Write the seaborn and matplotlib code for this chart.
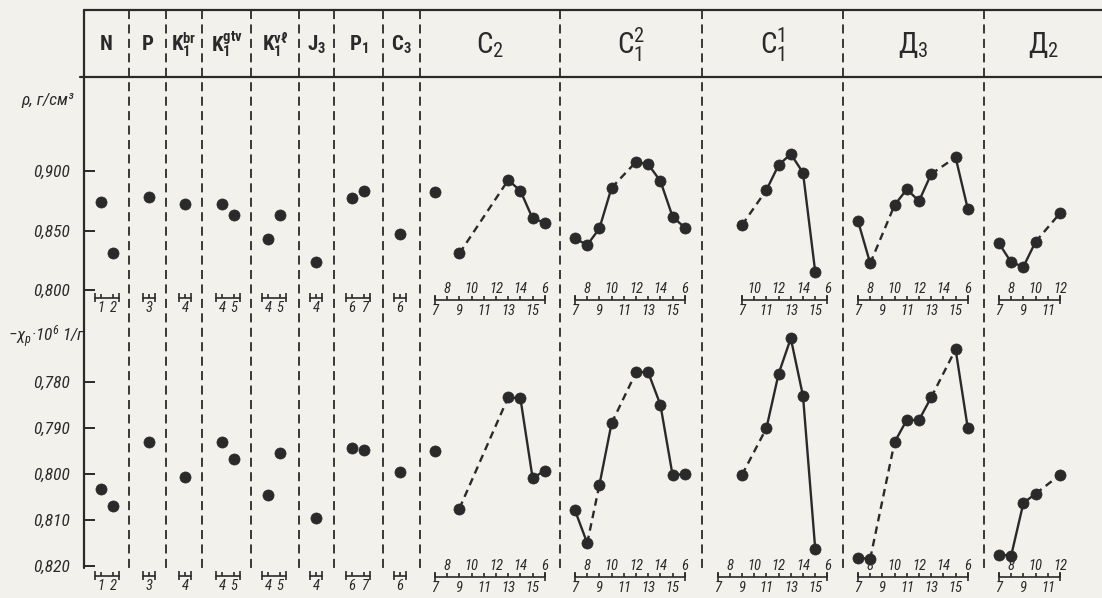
"""
Density and diamagnetic susceptibility of oils by stratigraphic unit
(scanned table-chart redrawn with seaborn)
"""
import pandas as pd
import matplotlib
matplotlib.use("Agg")
import matplotlib.pyplot as plt
from matplotlib import font_manager
from matplotlib.lines import Line2D
import seaborn as sns

# ---------------- data ----------------
units = ["N", "P", r"K$_1^{br}$", r"K$_1^{gtv}$", r"K$_1^{v\ell}$", "J$_3$", "P$_1$", "C$_3$",
         "C$_2$", "C$_1^2$", "C$_1^1$", "Д$_3$", "Д$_2$"]

samples = [[1, 2], [3], [4], [4, 5], [4, 5], [4], [6, 7], [6],
           [7, 9, 13, 14, 15, 16],
           [7, 8, 9, 10, 12, 13, 14, 15, 16],
           [9, 11, 12, 13, 14, 15],
           [7, 8, 10, 11, 12, 13, 15, 16],
           [7, 8, 9, 10, 12]]

density = [[0.874, 0.831], [0.878], [0.872], [0.8725, 0.863], [0.843, 0.863], [0.8235],
           [0.877, 0.883], [0.847],
           [0.8826, 0.8308, 0.8924, 0.8834, 0.8602, 0.8566],
           [0.8434, 0.8378, 0.8518, 0.8860, 0.9076, 0.9056, 0.8916, 0.8616, 0.8524],
           [0.8546, 0.884, 0.905, 0.9143, 0.8986, 0.8154],
           [0.858, 0.8224, 0.8714, 0.8846, 0.8748, 0.8975, 0.9115, 0.8681],
           [0.8392, 0.8233, 0.8196, 0.8406, 0.8645]]

susc = [[0.8032, 0.8070], [0.7931], [0.8007], [0.7931, 0.7967], [0.8045, 0.7955], [0.8096],
        [0.7943, 0.7948], [0.7996],
        [0.7951, 0.8075, 0.7834, 0.7836, 0.8009, 0.7993],
        [0.8079, 0.8150, 0.8024, 0.7890, 0.7780, 0.7780, 0.7850, 0.8003, 0.8000],
        [0.8002, 0.7901, 0.7783, 0.7706, 0.7831, 0.8162],
        [0.8182, 0.8184, 0.7931, 0.7883, 0.7883, 0.7834, 0.7730, 0.7901],
        [0.8175, 0.8177, 0.8063, 0.8043, 0.8002]]

# link between neighbouring points: s = solid, d = dashed, n = none
density_links = ["n", "", "", "n", "n", "", "n", "", "ndsss", "sssdssss", "dssss", "sdsssds", "sssd"]
susc_links = ["n", "", "", "n", "n", "", "n", "", "ndsss", "sdsdssss", "dssss", "sdsssds", "sssd"]

density_ticks = [0.800, 0.850, 0.900]
density_ticklabels = ["0,800", "0,850", "0,900"]
susc_ticks = [0.780, 0.790, 0.800, 0.810, 0.820]
susc_ticklabels = ["0,780", "0,790", "0,800", "0,810", "0,820"]

# long sample scales under the big columns (first, last sample number)
scale_top = [None] * 8 + [(7, 16), (7, 16), (9, 16), (7, 16), (7, 12)]
scale_bottom = [None] * 8 + [(7, 16), (7, 16), (7, 16), (7, 16), (7, 12)]
scale_top_first_label = {10: "7"}   # the C1^1 scale starts with "7" in print
printed = {16: "6"}                 # 16 is printed as "6"

# ---------------- layout ----------------
W, H = 1102, 598
dividers = [84, 129, 166, 202, 251, 299, 334, 383, 420, 560, 702, 843, 984, 1102]
anchor_px = [101, 149, 185, 222, 268, 316, 352, 400, 435, 575, 742, 858, 999]
PX = 12.2  # pixels per sample number
INK = "#2a2a2a"
PAPER = "#f3f1eb"

sns.set_theme(style="white")


def first_font(names):
    for name in names:
        try:
            font_manager.findfont(font_manager.FontProperties(family=name), fallback_to_default=False)
            return name
        except ValueError:
            continue
    return "DejaVu Sans"


NARROW = first_font(["Liberation Sans Narrow", "DejaVu Sans Condensed", "Roboto Condensed", "DejaVu Sans"])
plt.rcParams['font.family'] = [NARROW, 'DejaVu Sans']
plt.rcParams['mathtext.fontset'] = 'custom'
plt.rcParams['mathtext.rm'] = NARROW
plt.rcParams['mathtext.it'] = NARROW + ':italic'
plt.rcParams['mathtext.bf'] = NARROW + ':bold'
plt.rcParams['mathtext.default'] = 'regular'

fig = plt.figure(figsize=(W / 100, H / 100), dpi=100, facecolor=PAPER)


def rect(x0, x1, ytop, ybot):
    return [x0 / W, 1 - ybot / H, (x1 - x0) / W, (ybot - ytop) / H]


def fline(xs, ys, **kw):
    fig.add_artist(Line2D([x / W for x in xs], [1 - y / H for y in ys],
                          transform=fig.transFigure, color=INK, **kw))


def draw_scale(ax, span, lo, hi, y_line, marks, items):
    tr = ax.get_xaxis_transform()
    f = lambda y: (span[1] - y) / (span[1] - span[0])
    ax.plot([lo, hi], [f(y_line)] * 2, transform=tr, color=INK, lw=1.2, clip_on=False)
    ax.vlines([lo, hi], f(y_line + 4), f(y_line - 5), transform=tr, colors=INK,
              linewidth=1.2, clip_on=False)
    ax.vlines(marks, f(y_line), f(y_line - 4), transform=tr, colors=INK,
              linewidth=1.2, clip_on=False)
    for x, text, y in items:
        ax.text(x, f(y), text, transform=tr, ha='center', va='center', fontsize=10.5,
                style='italic', color=INK, clip_on=False)


rows = [
    dict(vals=density, links=density_links, span=(77, 318), ylim=(0.7765, 0.9790),
         ticks=density_ticks, ticklabels=density_ticklabels, scale=scale_top,
         first=scale_top_first_label, y_line=300, y_small=298),
    dict(vals=susc, links=susc_links, span=(318, 598), ylim=(0.8269, 0.7662),
         ticks=susc_ticks, ticklabels=susc_ticklabels, scale=scale_bottom,
         first={}, y_line=577, y_small=576),
]

for i in range(len(units)):
    x0, x1 = dividers[i], dividers[i + 1]
    s0 = samples[i][0]
    xlim = (s0 - (anchor_px[i] - x0) / PX, s0 + (x1 - anchor_px[i]) / PX)
    for row in rows:
        ax = fig.add_axes(rect(x0, x1, *row['span']))
        ax.patch.set_visible(False)
        xs, vs, links = samples[i], row['vals'][i], row['links'][i]

        for j, kind in enumerate(links):
            if kind == 'n':
                continue
            seg = pd.DataFrame({'s': xs[j:j + 2], 'v': vs[j:j + 2]})
            sns.lineplot(data=seg, x='s', y='v', ax=ax, color=INK, lw=1.7, sort=False,
                         estimator=None, linestyle='-' if kind == 's' else (0, (3.2, 2.2)))
        sns.scatterplot(x=xs, y=vs, ax=ax, s=64, color=INK, edgecolor=INK, linewidth=0.5,
                        zorder=4, legend=False)

        # sample-number scale under the column
        sc = row['scale'][i]
        if sc is None:
            lo, hi = min(xs) - 0.5, max(xs) + 0.5
            items = [(s, str(s), row['y_small'] + 10) for s in xs]
            draw_scale(ax, row['span'], lo, hi, row['y_small'], xs, items)
        else:
            lo, hi = sc
            marks = list(range(lo, hi + 1))
            items = []
            for k in marks:
                txt = printed.get(k, str(k))
                if k == lo and i in row['first']:
                    txt = row['first'][i]
                if k % 2:
                    items.append((k, txt, row['y_line'] + 11))
                else:
                    items.append((k, txt, row['y_line'] - 11))
            draw_scale(ax, row['span'], lo, hi, row['y_line'], marks, items)

        ax.set_xlim(*xlim)
        ax.set_ylim(*row['ylim'])
        ax.set_xlabel('')
        ax.set_ylabel('')
        for sp in ax.spines.values():
            sp.set_visible(False)
        ax.set_xticks([])
        if i == 0:
            ax.set_yticks(row['ticks'])
            ax.set_yticklabels(row['ticklabels'], fontsize=12.5, style='italic', color=INK)
            ax.tick_params(axis='y', direction='in', length=8, width=1.4, color=INK, pad=10,
                           left=True)
        else:
            ax.set_yticks([])

# table frame
fline([84, 1102], [10, 10], lw=1.6)
fline([80, 1102], [77, 77], lw=1.6)
fline([84, 84], [10, 568], lw=1.6)
for x in dividers[1:-1]:
    fline([x, x], [10, 568], lw=1.3, linestyle=(0, (5, 3)))

# header labels
for i, name in enumerate(units):
    cx = (dividers[i] + dividers[i + 1]) / 2
    big = i >= 8
    fig.text(cx / W, 1 - 45 / H, name, ha='center', va='center', color=INK,
             fontsize=21 if big else 15, fontweight='normal' if big else 'bold')

# axis titles
fig.text(48 / W, 1 - 100 / H, "ρ, г/см³", ha='center', va='center', fontsize=12.5,
         style='italic', color=INK)
fig.text(47 / W, 1 - 337 / H, "−χ$_p$·10$^6$ 1/г", ha='center', va='center', fontsize=12.5,
         style='italic', color=INK)

fig.savefig("out.png", dpi=100, facecolor=PAPER)
